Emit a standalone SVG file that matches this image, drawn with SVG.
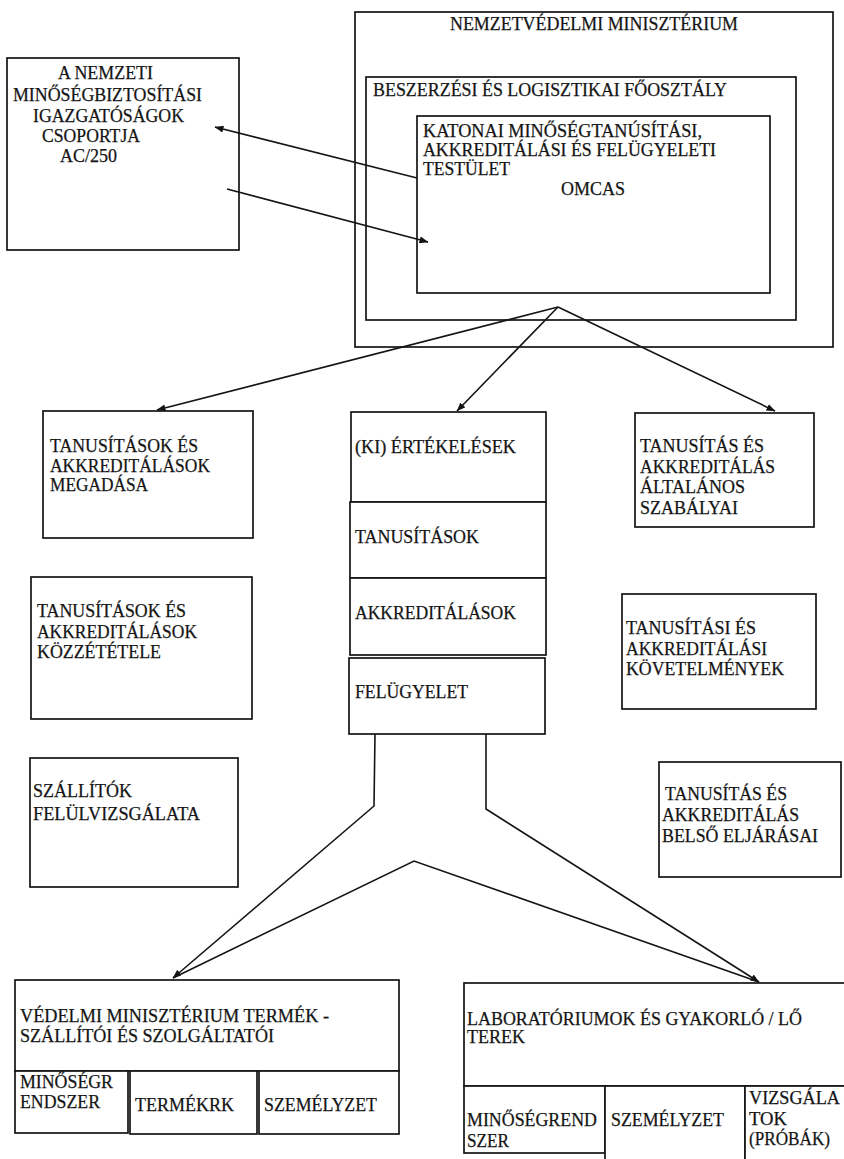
<svg xmlns="http://www.w3.org/2000/svg" width="844" height="1159" viewBox="0 0 844 1159">
<style>
.b{fill:#fff;stroke:#141414;stroke-width:1.7}
.t{font-family:"Liberation Serif","Times New Roman",serif;font-size:18.5px;fill:#141414;stroke:#141414;stroke-width:0.25}
.c{fill:none;stroke:#141414;stroke-width:1.6}
</style>
<defs>
<marker id="ah" markerUnits="userSpaceOnUse" markerWidth="9" markerHeight="7" refX="8.5" refY="3.5" orient="auto">
<path d="M0,0 L9,3.5 L0,7 z" fill="#141414"/>
</marker>
</defs>
<rect width="844" height="1159" fill="#fff"/>

<g id="nvm">
<rect class="b" x="355" y="12" width="478" height="335"/>
<text class="t" x="450" y="30" textLength="288" lengthAdjust="spacingAndGlyphs">NEMZETVÉDELMI MINISZTÉRIUM</text>
</g>
<g id="beszerzesi">
<rect class="b" x="366" y="77" width="430" height="243"/>
<text class="t" x="373" y="96" textLength="354" lengthAdjust="spacingAndGlyphs">BESZERZÉSI ÉS LOGISZTIKAI FŐOSZTÁLY</text>
</g>
<g id="omcas">
<rect class="b" x="417" y="116" width="353" height="177"/>
<text class="t" x="423" y="137" textLength="279" lengthAdjust="spacingAndGlyphs">KATONAI MINŐSÉGTANÚSÍTÁSI,</text>
<text class="t" x="423" y="156" textLength="293" lengthAdjust="spacingAndGlyphs">AKKREDITÁLÁSI ÉS FELÜGYELETI</text>
<text class="t" x="423" y="175" textLength="87" lengthAdjust="spacingAndGlyphs">TESTÜLET</text>
<text class="t" x="561" y="195" textLength="64" lengthAdjust="spacingAndGlyphs">OMCAS</text>
</g>
<g id="ac250">
<rect class="b" x="7" y="58" width="232" height="192"/>
<text class="t" x="58" y="79" textLength="95" lengthAdjust="spacingAndGlyphs">A NEMZETI</text>
<text class="t" x="13" y="101" textLength="189" lengthAdjust="spacingAndGlyphs">MINŐSÉGBIZTOSÍTÁSI</text>
<text class="t" x="33" y="122" textLength="151" lengthAdjust="spacingAndGlyphs">IGAZGATÓSÁGOK</text>
<text class="t" x="42" y="142" textLength="98" lengthAdjust="spacingAndGlyphs">CSOPORTJA</text>
<text class="t" x="60" y="162" textLength="57" lengthAdjust="spacingAndGlyphs">AC/250</text>
</g>

<g id="megadasa">
<rect class="b" x="43" y="411" width="210" height="127"/>
<text class="t" x="50" y="452" textLength="148" lengthAdjust="spacingAndGlyphs">TANUSÍTÁSOK ÉS</text>
<text class="t" x="50" y="472" textLength="160" lengthAdjust="spacingAndGlyphs">AKKREDITÁLÁSOK</text>
<text class="t" x="50" y="491" textLength="98" lengthAdjust="spacingAndGlyphs">MEGADÁSA</text>
</g>
<g id="ertekelesek">
<rect class="b" x="351" y="412" width="195" height="90"/>
<text class="t" x="355" y="453" textLength="161" lengthAdjust="spacingAndGlyphs">(KI) ÉRTÉKELÉSEK</text>
</g>
<g id="tanusitasok">
<rect class="b" x="350" y="502" width="196" height="76"/>
<text class="t" x="355" y="543" textLength="124" lengthAdjust="spacingAndGlyphs">TANUSÍTÁSOK</text>
</g>
<g id="akkreditalasok">
<rect class="b" x="350" y="578" width="196" height="77"/>
<text class="t" x="355" y="619" textLength="161" lengthAdjust="spacingAndGlyphs">AKKREDITÁLÁSOK</text>
</g>
<g id="felugyelet">
<rect class="b" x="349" y="658" width="196" height="76"/>
<text class="t" x="355" y="698" textLength="113" lengthAdjust="spacingAndGlyphs">FELÜGYELET</text>
</g>
<g id="altalanos">
<rect class="b" x="635" y="413" width="179" height="114"/>
<text class="t" x="640" y="452" textLength="124" lengthAdjust="spacingAndGlyphs">TANUSÍTÁS ÉS</text>
<text class="t" x="640" y="473" textLength="135" lengthAdjust="spacingAndGlyphs">AKKREDITÁLÁS</text>
<text class="t" x="640" y="493" textLength="105" lengthAdjust="spacingAndGlyphs">ÁLTALÁNOS</text>
<text class="t" x="640" y="514" textLength="98" lengthAdjust="spacingAndGlyphs">SZABÁLYAI</text>
</g>
<g id="kozzetetele">
<rect class="b" x="31" y="577" width="221" height="142"/>
<text class="t" x="37" y="617" textLength="149" lengthAdjust="spacingAndGlyphs">TANUSÍTÁSOK ÉS</text>
<text class="t" x="37" y="638" textLength="160" lengthAdjust="spacingAndGlyphs">AKKREDITÁLÁSOK</text>
<text class="t" x="37" y="658" textLength="124" lengthAdjust="spacingAndGlyphs">KÖZZÉTÉTELE</text>
</g>
<g id="kovetelmenyek">
<rect class="b" x="622" y="594" width="194" height="115"/>
<text class="t" x="626" y="634" textLength="130" lengthAdjust="spacingAndGlyphs">TANUSÍTÁSI ÉS</text>
<text class="t" x="626" y="655" textLength="141" lengthAdjust="spacingAndGlyphs">AKKREDITÁLÁSI</text>
<text class="t" x="626" y="675" textLength="158" lengthAdjust="spacingAndGlyphs">KÖVETELMÉNYEK</text>
</g>
<g id="szallitok">
<rect class="b" x="30" y="758" width="208" height="129"/>
<text class="t" x="33" y="797" textLength="99" lengthAdjust="spacingAndGlyphs">SZÁLLÍTÓK</text>
<text class="t" x="33" y="820" textLength="167" lengthAdjust="spacingAndGlyphs">FELÜLVIZSGÁLATA</text>
</g>
<g id="belso">
<rect class="b" x="659" y="762" width="182" height="115"/>
<text class="t" x="665" y="800" textLength="122" lengthAdjust="spacingAndGlyphs">TANUSÍTÁS ÉS</text>
<text class="t" x="662" y="821" textLength="137" lengthAdjust="spacingAndGlyphs">AKKREDITÁLÁS</text>
<text class="t" x="662" y="842" textLength="156" lengthAdjust="spacingAndGlyphs">BELSŐ ELJÁRÁSAI</text>
</g>

<g id="vedelmi">
<rect class="b" x="15" y="980" width="384" height="91"/>
<text class="t" x="20" y="1022" textLength="309" lengthAdjust="spacingAndGlyphs">VÉDELMI MINISZTÉRIUM TERMÉK -</text>
<text class="t" x="20" y="1042" textLength="254" lengthAdjust="spacingAndGlyphs">SZÁLLÍTÓI ÉS SZOLGÁLTATÓI</text>
</g>
<g id="vedelmi-minosegrendszer">
<rect class="b" x="15" y="1071" width="113" height="62"/>
<text class="t" x="20" y="1088" textLength="93" lengthAdjust="spacingAndGlyphs">MINŐSÉGR</text>
<text class="t" x="20" y="1108" textLength="80" lengthAdjust="spacingAndGlyphs">ENDSZER</text>
</g>
<g id="vedelmi-termekrk">
<rect class="b" x="130" y="1071" width="127" height="63"/>
<text class="t" x="135" y="1111" textLength="99" lengthAdjust="spacingAndGlyphs">TERMÉKRK</text>
</g>
<g id="vedelmi-szemelyzet">
<rect class="b" x="259" y="1071" width="140" height="63"/>
<text class="t" x="264" y="1111" textLength="113" lengthAdjust="spacingAndGlyphs">SZEMÉLYZET</text>
</g>

<g id="laboratoriumok">
<rect class="b" x="464" y="983" width="384" height="103"/>
<text class="t" x="467" y="1025" textLength="335" lengthAdjust="spacingAndGlyphs">LABORATÓRIUMOK ÉS GYAKORLÓ / LŐ</text>
<text class="t" x="467" y="1043" textLength="58" lengthAdjust="spacingAndGlyphs">TEREK</text>
</g>
<g id="lab-minosegrendszer">
<rect class="b" x="464" y="1086" width="141" height="67"/>
<text class="t" x="467" y="1126" textLength="130" lengthAdjust="spacingAndGlyphs">MINŐSÉGREND</text>
<text class="t" x="467" y="1147" textLength="42" lengthAdjust="spacingAndGlyphs">SZER</text>
</g>
<g id="lab-szemelyzet">
<rect class="b" x="605" y="1086" width="140" height="90"/>
<text class="t" x="611" y="1126" textLength="113" lengthAdjust="spacingAndGlyphs">SZEMÉLYZET</text>
</g>
<g id="lab-vizsgalatok">
<rect class="b" x="745" y="1086" width="103" height="90"/>
<text class="t" x="749" y="1104" textLength="91" lengthAdjust="spacingAndGlyphs">VIZSGÁLA</text>
<text class="t" x="749" y="1125" textLength="38" lengthAdjust="spacingAndGlyphs">TOK</text>
<text class="t" x="749" y="1145" textLength="81" lengthAdjust="spacingAndGlyphs">(PRÓBÁK)</text>
</g>

<g id="connectors">
<line class="c" x1="417" y1="178" x2="215" y2="127" marker-end="url(#ah)"/>
<line class="c" x1="227" y1="189" x2="428" y2="242" marker-end="url(#ah)"/>
<line class="c" x1="558" y1="307" x2="157" y2="410" marker-end="url(#ah)"/>
<line class="c" x1="558" y1="307" x2="457" y2="411" marker-end="url(#ah)"/>
<line class="c" x1="558" y1="307" x2="775" y2="411" marker-end="url(#ah)"/>
<polyline class="c" points="375,734 374,806 173,978" marker-end="url(#ah)"/>
<polyline class="c" points="486,734 486,809 759,982" marker-end="url(#ah)"/>
<polyline class="c" points="173,978 414,861 759,982"/>
</g>
</svg>
